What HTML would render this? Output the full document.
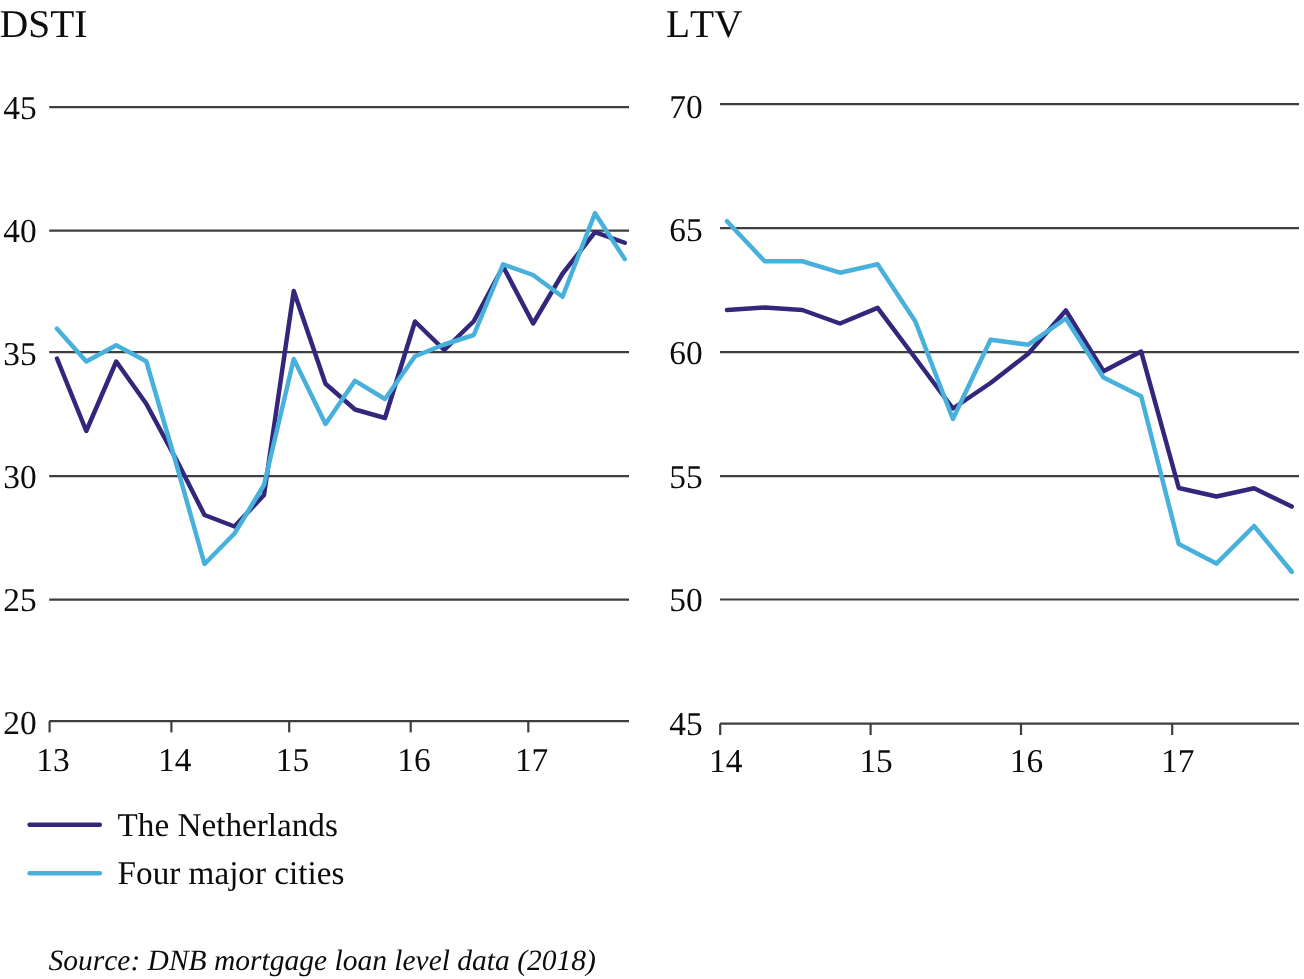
<!DOCTYPE html>
<html lang="en"><head><meta charset="utf-8"><title>DSTI and LTV</title>
<style>
html,body{margin:0;padding:0;background:#fff;}
body{width:1304px;height:979px;overflow:hidden;}
svg{display:block;will-change:transform;}
text{font-family:"Liberation Serif","Times New Roman",Times,serif;fill:#0c0c0c;font-kerning:none;text-rendering:geometricPrecision;}
.t{font-size:39.4px;}
.k{font-size:33.4px;}
.l{font-size:33.2px;}
.s{font-size:29.5px;font-style:italic;}
.g{stroke:#3d3f3e;stroke-width:2.2;fill:none;}
.d{fill:none;stroke-width:4.5;stroke-linejoin:round;stroke-linecap:round;}
</style></head><body>
<svg width="1304" height="979" viewBox="0 0 1304 979">
<rect width="1304" height="979" fill="#fff"/>
<text class="t" x="-0.2" y="36.6">DSTI</text>
<text class="t" x="665.9" y="36.6">LTV</text>
<line class="g" x1="49.2" y1="107.2" x2="629.0" y2="107.2"/>
<text class="k" x="3.2" y="118.8">45</text>
<line class="g" x1="49.2" y1="230.6" x2="629.0" y2="230.6"/>
<text class="k" x="3.2" y="241.8">40</text>
<line class="g" x1="49.2" y1="352.2" x2="629.0" y2="352.2"/>
<text class="k" x="3.2" y="364.7">35</text>
<line class="g" x1="49.2" y1="476.2" x2="629.0" y2="476.2"/>
<text class="k" x="3.2" y="487.9">30</text>
<line class="g" x1="49.2" y1="599.7" x2="629.0" y2="599.7"/>
<text class="k" x="3.2" y="610.7">25</text>
<line class="g" x1="49.2" y1="721.2" x2="629.0" y2="721.2"/>
<text class="k" x="3.2" y="733.5">20</text>
<line class="g" x1="49.6" y1="721.2" x2="49.6" y2="732.4"/>
<text class="k" x="36.2" y="770.6">13</text>
<line class="g" x1="171.4" y1="721.2" x2="171.4" y2="732.4"/>
<text class="k" x="158.0" y="770.6">14</text>
<line class="g" x1="289.2" y1="721.2" x2="289.2" y2="732.4"/>
<text class="k" x="275.8" y="770.6">15</text>
<line class="g" x1="410.7" y1="721.2" x2="410.7" y2="732.4"/>
<text class="k" x="397.3" y="770.6">16</text>
<line class="g" x1="528.3" y1="721.2" x2="528.3" y2="732.4"/>
<text class="k" x="514.9" y="770.6">17</text>
<line class="g" x1="720.0" y1="104.2" x2="1299.0" y2="104.2"/>
<text class="k" x="669.3" y="117.5">70</text>
<line class="g" x1="720.0" y1="228.2" x2="1299.0" y2="228.2"/>
<text class="k" x="669.3" y="240.9">65</text>
<line class="g" x1="720.0" y1="352.2" x2="1299.0" y2="352.2"/>
<text class="k" x="669.3" y="364.4">60</text>
<line class="g" x1="720.0" y1="476.2" x2="1299.0" y2="476.2"/>
<text class="k" x="669.3" y="487.8">55</text>
<line class="g" x1="720.0" y1="599.5" x2="1299.0" y2="599.5"/>
<text class="k" x="669.3" y="611.2">50</text>
<line class="g" x1="720.0" y1="723.6" x2="1299.0" y2="723.6"/>
<text class="k" x="669.3" y="734.7">45</text>
<line class="g" x1="720.2" y1="723.6" x2="720.2" y2="735.0"/>
<text class="k" x="709.0" y="771.6">14</text>
<line class="g" x1="870.6" y1="723.6" x2="870.6" y2="735.0"/>
<text class="k" x="859.4" y="771.6">15</text>
<line class="g" x1="1021.0" y1="723.6" x2="1021.0" y2="735.0"/>
<text class="k" x="1009.8" y="771.6">16</text>
<line class="g" x1="1172.2" y1="723.6" x2="1172.2" y2="735.0"/>
<text class="k" x="1161.0" y="771.6">17</text>
<polyline class="d" stroke="#33277c" points="57.00,358.50 86.25,431.00 116.25,361.50 146.25,403.75 176.00,459.00 204.50,515.00 234.50,526.50 264.00,495.00 293.75,291.00 325.50,383.75 355.00,409.50 385.00,418.00 415.00,321.50 444.25,350.00 473.75,321.25 503.10,266.50 533.10,323.50 562.50,273.75 595.00,232.20 624.75,242.75"/>
<polyline class="d" stroke="#47b1dc" points="57.00,328.75 86.25,361.50 116.25,345.20 146.25,361.25 176.00,463.00 204.50,564.00 234.50,533.50 264.00,485.00 293.75,359.00 325.50,424.00 355.00,380.80 385.00,399.00 415.00,356.25 444.25,344.50 473.75,335.00 503.10,264.40 533.10,275.00 562.50,296.80 595.00,213.20 624.75,259.10"/>
<polyline class="d" stroke="#33277c" points="727.00,310.00 764.65,307.50 802.30,310.00 839.95,323.50 877.60,307.80 915.25,358.00 952.90,408.50 990.55,383.00 1028.20,353.75 1065.85,310.50 1103.50,371.20 1141.15,351.60 1178.80,488.00 1216.45,496.50 1254.10,488.30 1291.75,506.60"/>
<polyline class="d" stroke="#47b1dc" points="727.00,221.25 764.65,261.25 802.30,261.25 839.95,272.70 877.60,264.20 915.25,321.25 952.90,419.00 990.55,339.80 1028.20,344.70 1065.85,318.50 1103.50,377.50 1141.15,396.25 1178.80,544.10 1216.45,563.60 1254.10,526.00 1291.75,571.80"/>
<line class="d" stroke="#33277c" x1="29.6" y1="824.8" x2="99.8" y2="824.8"/>
<line class="d" stroke="#47b1dc" x1="29.6" y1="873.2" x2="99.8" y2="873.2"/>
<text class="l" x="117.6" y="836.2">The Netherlands</text>
<text class="l" x="117.6" y="884.4">Four major cities</text>
<text class="s" x="48.5" y="970">Source: DNB mortgage loan level data (2018)</text>
</svg></body></html>
